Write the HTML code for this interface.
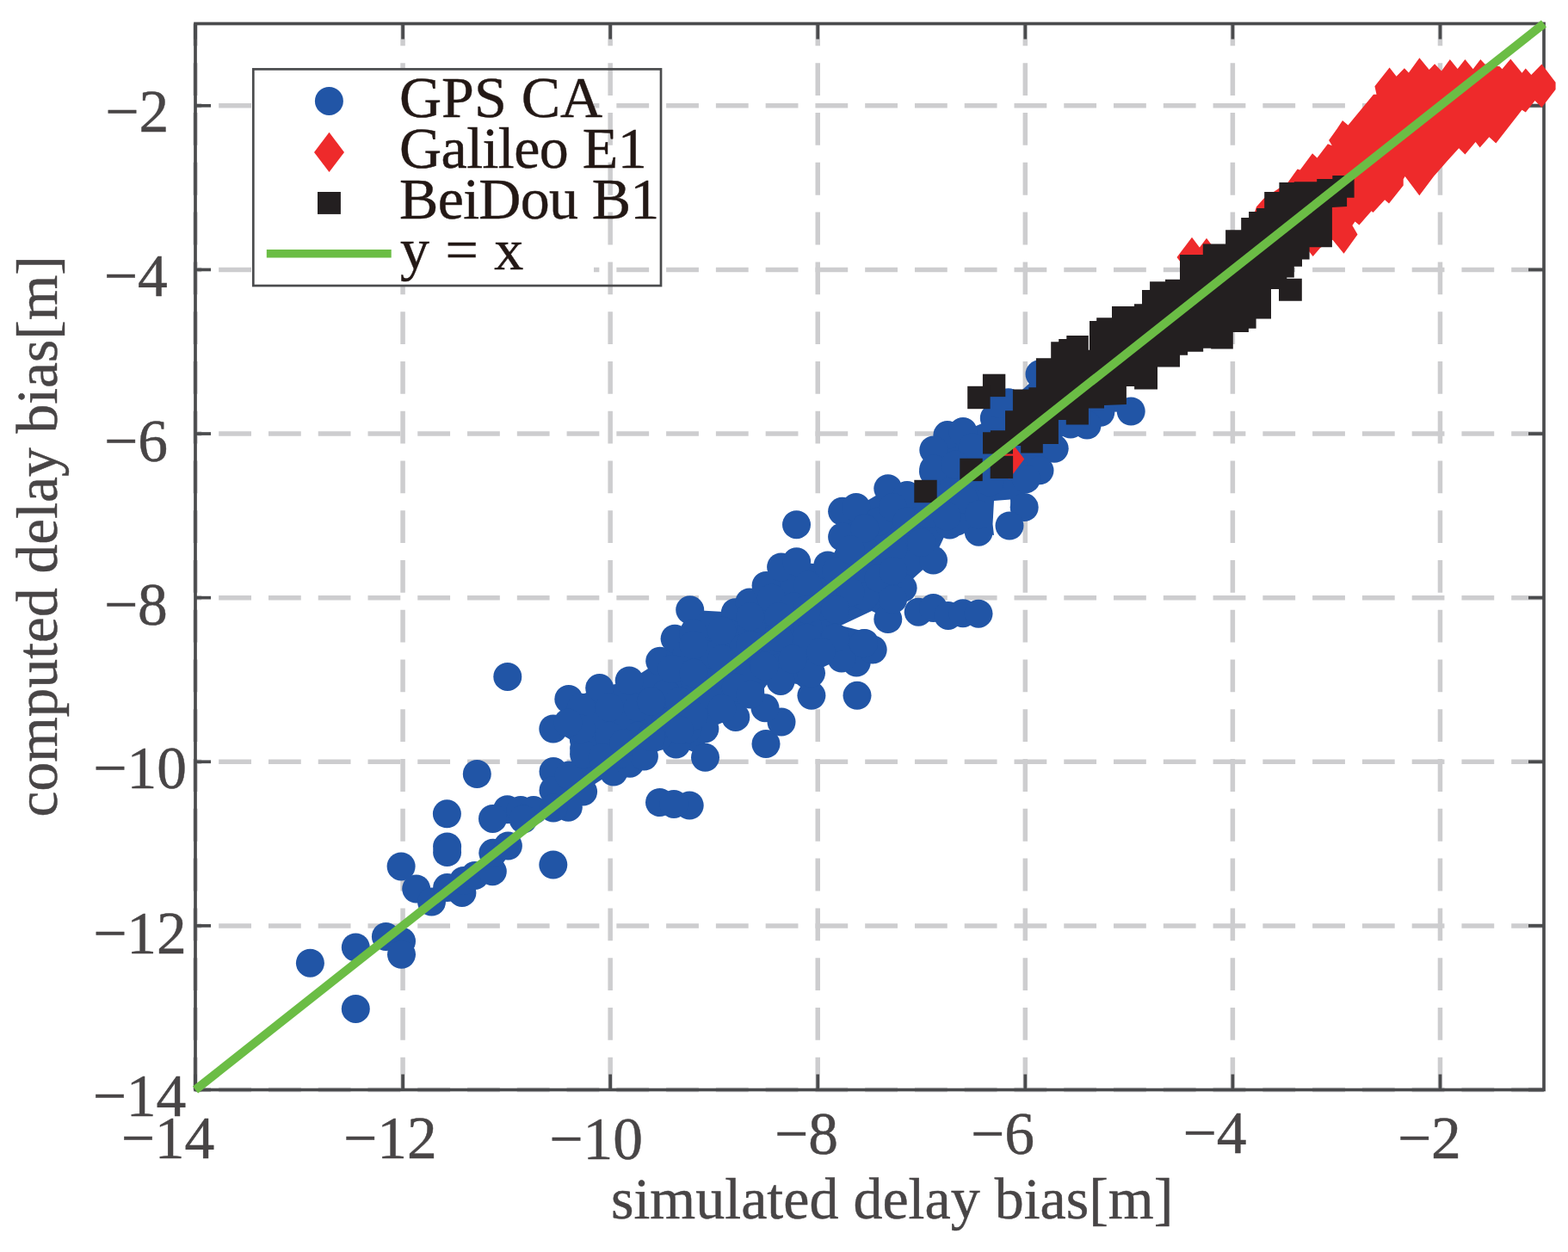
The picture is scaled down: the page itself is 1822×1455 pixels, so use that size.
<!DOCTYPE html><html><head><meta charset="utf-8"><title>simulated vs computed delay bias</title>
<style>html,body{margin:0;padding:0;background:#fff;}svg{display:block;}text{font-family:"Liberation Serif","Times New Roman",serif;}</style></head><body>
<svg width="1822" height="1455" viewBox="0 0 1822 1455">
<rect width="1822" height="1455" fill="#fff"/>
<g stroke="#cdcdcf" stroke-width="5.5" stroke-dasharray="37.80 19.97" fill="none"><line x1="1794.00" y1="1266.50" x2="227.00" y2="1266.50"/><line x1="1794.00" y1="1075.88" x2="227.00" y2="1075.88"/><line x1="1794.00" y1="885.27" x2="227.00" y2="885.27"/><line x1="1794.00" y1="694.65" x2="227.00" y2="694.65"/><line x1="1794.00" y1="504.04" x2="227.00" y2="504.04"/><line x1="1794.00" y1="313.42" x2="227.00" y2="313.42"/><line x1="1794.00" y1="122.81" x2="227.00" y2="122.81"/><line x1="227.00" y1="1266.50" x2="227.00" y2="27.50"/><line x1="468.08" y1="1266.50" x2="468.08" y2="27.50"/><line x1="709.15" y1="1266.50" x2="709.15" y2="27.50"/><line x1="950.23" y1="1266.50" x2="950.23" y2="27.50"/><line x1="1191.31" y1="1266.50" x2="1191.31" y2="27.50"/><line x1="1432.38" y1="1266.50" x2="1432.38" y2="27.50"/><line x1="1673.46" y1="1266.50" x2="1673.46" y2="27.50"/></g>
<g stroke="#4a4b4d" stroke-width="3.7" fill="none"><rect x="227.00" y="27.50" width="1567.00" height="1239.00"/><line x1="227.00" y1="1266.50" x2="227.00" y2="1248.50"/><line x1="227.00" y1="27.50" x2="227.00" y2="45.50"/><line x1="227.00" y1="1266.50" x2="245.00" y2="1266.50"/><line x1="1794.00" y1="1266.50" x2="1776.00" y2="1266.50"/><line x1="468.08" y1="1266.50" x2="468.08" y2="1248.50"/><line x1="468.08" y1="27.50" x2="468.08" y2="45.50"/><line x1="227.00" y1="1075.88" x2="245.00" y2="1075.88"/><line x1="1794.00" y1="1075.88" x2="1776.00" y2="1075.88"/><line x1="709.15" y1="1266.50" x2="709.15" y2="1248.50"/><line x1="709.15" y1="27.50" x2="709.15" y2="45.50"/><line x1="227.00" y1="885.27" x2="245.00" y2="885.27"/><line x1="1794.00" y1="885.27" x2="1776.00" y2="885.27"/><line x1="950.23" y1="1266.50" x2="950.23" y2="1248.50"/><line x1="950.23" y1="27.50" x2="950.23" y2="45.50"/><line x1="227.00" y1="694.65" x2="245.00" y2="694.65"/><line x1="1794.00" y1="694.65" x2="1776.00" y2="694.65"/><line x1="1191.31" y1="1266.50" x2="1191.31" y2="1248.50"/><line x1="1191.31" y1="27.50" x2="1191.31" y2="45.50"/><line x1="227.00" y1="504.04" x2="245.00" y2="504.04"/><line x1="1794.00" y1="504.04" x2="1776.00" y2="504.04"/><line x1="1432.38" y1="1266.50" x2="1432.38" y2="1248.50"/><line x1="1432.38" y1="27.50" x2="1432.38" y2="45.50"/><line x1="227.00" y1="313.42" x2="245.00" y2="313.42"/><line x1="1794.00" y1="313.42" x2="1776.00" y2="313.42"/><line x1="1673.46" y1="1266.50" x2="1673.46" y2="1248.50"/><line x1="1673.46" y1="27.50" x2="1673.46" y2="45.50"/><line x1="227.00" y1="122.81" x2="245.00" y2="122.81"/><line x1="1794.00" y1="122.81" x2="1776.00" y2="122.81"/></g>
<g fill="#2155a6">
<polygon points="572.5,951.4 589.5,940.7 605.0,941.5 620.0,941.5 643.0,918.5 643.0,896.6 678.6,876.7 678.6,870.0 642.8,847.0 660.8,812.5 696.7,799.6 731.2,791.0 766.7,768.3 784.1,742.2 801.7,708.8 854.4,711.7 870.9,699.9 890.1,680.4 907.6,659.0 925.6,652.8 961.9,656.9 978.6,624.0 978.6,594.3 994.8,589.4 1031.8,567.7 1054.0,575.4 1084.5,548.2 1084.8,523.0 1100.9,505.6 1119.0,501.5 1155.3,485.9 1171.7,467.8 1208.0,434.8 1250.0,440.0 1290.0,450.0 1314.2,478.0 1278.8,479.3 1263.1,494.1 1244.0,493.0 1225.2,521.3 1208.0,546.8 1192.3,556.7 1190.2,589.6 1174.5,594.0 1174.0,580.5 1155.0,582.0 1153.5,609.0 1155.0,622.0 1137.2,618.2 1120.0,603.0 1103.5,610.0 1084.5,651.1 1049.1,683.3 1031.8,719.5 1013.0,710.0 977.0,727.0 1005.0,734.0 1014.2,755.0 995.2,770.0 977.9,765.0 942.5,782.3 942.9,808.3 926.0,795.0 907.1,791.4 895.0,790.0 888.0,800.0 889.0,822.7 908.0,839.1 890.0,864.5 900.0,845.0 889.7,823.0 872.0,812.0 854.8,833.4 819.0,848.2 819.5,880.3 785.6,865.1 748.5,879.1 732.0,887.2 713.0,897.0 677.6,920.1 660.3,938.2 643.0,939.0"/>
<circle cx="360.4" cy="1119.2" r="16.5"/><circle cx="413.3" cy="1101.0" r="16.5"/><circle cx="448.4" cy="1088.4" r="16.5"/><circle cx="466.5" cy="1093.9" r="16.5"/><circle cx="466.5" cy="1109.3" r="16.5"/><circle cx="413.3" cy="1172.4" r="16.5"/><circle cx="466.1" cy="1006.9" r="16.5"/><circle cx="483.7" cy="1033.0" r="16.5"/><circle cx="501.5" cy="1048.1" r="16.5"/><circle cx="519.6" cy="1031.6" r="16.5"/><circle cx="536.9" cy="1037.4" r="16.5"/><circle cx="538.6" cy="1023.4" r="16.5"/><circle cx="551.7" cy="1017.6" r="16.5"/><circle cx="572.3" cy="1012.7" r="16.5"/><circle cx="572.8" cy="991.3" r="16.5"/><circle cx="590.4" cy="983.0" r="16.5"/><circle cx="519.6" cy="983.9" r="16.5"/><circle cx="519.6" cy="990.5" r="16.5"/><circle cx="642.8" cy="1005.0" r="16.5"/><circle cx="554.3" cy="899.5" r="16.5"/><circle cx="519.4" cy="945.8" r="16.5"/><circle cx="589.5" cy="940.7" r="16.5"/><circle cx="605.0" cy="941.5" r="16.5"/><circle cx="620.0" cy="941.5" r="16.5"/><circle cx="643.0" cy="896.6" r="16.5"/><circle cx="643.0" cy="918.5" r="16.5"/><circle cx="677.6" cy="920.1" r="16.5"/><circle cx="660.3" cy="938.2" r="16.5"/><circle cx="643.0" cy="939.0" r="16.5"/><circle cx="713.0" cy="897.0" r="16.5"/><circle cx="732.0" cy="887.2" r="16.5"/><circle cx="748.4" cy="879.0" r="16.5"/><circle cx="678.4" cy="860.0" r="16.5"/><circle cx="766.5" cy="932.5" r="16.5"/><circle cx="661.0" cy="901.0" r="16.5"/><circle cx="694.0" cy="885.0" r="16.5"/><circle cx="694.0" cy="868.0" r="16.5"/><circle cx="719.0" cy="876.5" r="16.5"/><circle cx="589.8" cy="786.4" r="16.5"/><circle cx="660.8" cy="812.5" r="16.5"/><circle cx="696.7" cy="799.6" r="16.5"/><circle cx="731.2" cy="791.0" r="16.5"/><circle cx="766.7" cy="768.3" r="16.5"/><circle cx="642.8" cy="847.0" r="16.5"/><circle cx="678.6" cy="870.0" r="16.5"/><circle cx="678.6" cy="876.7" r="16.5"/><circle cx="785.6" cy="865.1" r="16.5"/><circle cx="819.5" cy="880.3" r="16.5"/><circle cx="818.9" cy="847.0" r="16.5"/><circle cx="854.8" cy="833.4" r="16.5"/><circle cx="801.2" cy="936.0" r="16.5"/><circle cx="675.3" cy="822.3" r="16.5"/><circle cx="708.2" cy="822.3" r="16.5"/><circle cx="708.2" cy="855.3" r="16.5"/><circle cx="741.1" cy="822.3" r="16.5"/><circle cx="741.1" cy="855.3" r="16.5"/><circle cx="774.0" cy="805.9" r="16.5"/><circle cx="774.0" cy="838.8" r="16.5"/><circle cx="807.0" cy="789.4" r="16.5"/><circle cx="807.0" cy="822.3" r="16.5"/><circle cx="840.0" cy="773.0" r="16.5"/><circle cx="840.0" cy="806.0" r="16.5"/><circle cx="790.5" cy="764.7" r="16.5"/><circle cx="823.5" cy="756.5" r="16.5"/><circle cx="856.4" cy="748.2" r="16.5"/><circle cx="675.3" cy="847.0" r="16.5"/><circle cx="700.0" cy="880.0" r="16.5"/><circle cx="724.7" cy="863.5" r="16.5"/><circle cx="765.8" cy="855.3" r="16.5"/><circle cx="798.8" cy="847.0" r="16.5"/><circle cx="660.0" cy="840.0" r="16.5"/><circle cx="801.7" cy="708.8" r="16.5"/><circle cx="784.1" cy="742.2" r="16.5"/><circle cx="854.4" cy="711.7" r="16.5"/><circle cx="870.9" cy="699.9" r="16.5"/><circle cx="890.1" cy="680.4" r="16.5"/><circle cx="907.6" cy="659.0" r="16.5"/><circle cx="822.3" cy="728.2" r="16.5"/><circle cx="805.8" cy="736.4" r="16.5"/><circle cx="847.0" cy="736.4" r="16.5"/><circle cx="880.0" cy="720.0" r="16.5"/><circle cx="896.4" cy="695.3" r="16.5"/><circle cx="797.6" cy="761.0" r="16.5"/><circle cx="830.5" cy="761.0" r="16.5"/><circle cx="863.5" cy="752.9" r="16.5"/><circle cx="896.4" cy="744.7" r="16.5"/><circle cx="781.0" cy="777.6" r="16.5"/><circle cx="925.5" cy="609.7" r="16.5"/><circle cx="925.6" cy="652.8" r="16.5"/><circle cx="961.9" cy="656.9" r="16.5"/><circle cx="978.6" cy="594.3" r="16.5"/><circle cx="978.6" cy="624.0" r="16.5"/><circle cx="994.8" cy="589.4" r="16.5"/><circle cx="1031.8" cy="567.7" r="16.5"/><circle cx="1054.0" cy="575.4" r="16.5"/><circle cx="1084.5" cy="548.2" r="16.5"/><circle cx="1103.5" cy="610.0" r="16.5"/><circle cx="1137.2" cy="618.2" r="16.5"/><circle cx="1084.5" cy="651.1" r="16.5"/><circle cx="1049.1" cy="683.3" r="16.5"/><circle cx="1031.8" cy="719.5" r="16.5"/><circle cx="1067.2" cy="711.2" r="16.5"/><circle cx="1084.5" cy="706.6" r="16.5"/><circle cx="1101.8" cy="715.4" r="16.5"/><circle cx="1004.7" cy="693.1" r="16.5"/><circle cx="962.0" cy="722.0" r="16.5"/><circle cx="1004.7" cy="747.5" r="16.5"/><circle cx="938.8" cy="680.0" r="16.5"/><circle cx="971.7" cy="663.5" r="16.5"/><circle cx="1004.7" cy="638.8" r="16.5"/><circle cx="1021.0" cy="605.9" r="16.5"/><circle cx="1037.6" cy="589.4" r="16.5"/><circle cx="1054.0" cy="605.9" r="16.5"/><circle cx="1078.8" cy="597.6" r="16.5"/><circle cx="1095.2" cy="589.4" r="16.5"/><circle cx="1120.0" cy="581.2" r="16.5"/><circle cx="1111.7" cy="605.9" r="16.5"/><circle cx="1037.6" cy="638.8" r="16.5"/><circle cx="1070.5" cy="630.6" r="16.5"/><circle cx="1021.0" cy="671.7" r="16.5"/><circle cx="1037.6" cy="663.5" r="16.5"/><circle cx="988.2" cy="688.2" r="16.5"/><circle cx="955.3" cy="704.7" r="16.5"/><circle cx="922.3" cy="704.7" r="16.5"/><circle cx="905.9" cy="721.1" r="16.5"/><circle cx="872.9" cy="729.4" r="16.5"/><circle cx="938.8" cy="729.4" r="16.5"/><circle cx="1037.6" cy="696.4" r="16.5"/><circle cx="1004.7" cy="614.1" r="16.5"/><circle cx="988.2" cy="638.8" r="16.5"/><circle cx="890.0" cy="864.5" r="16.5"/><circle cx="908.0" cy="839.1" r="16.5"/><circle cx="889.0" cy="822.7" r="16.5"/><circle cx="907.1" cy="791.4" r="16.5"/><circle cx="942.9" cy="808.3" r="16.5"/><circle cx="942.5" cy="782.3" r="16.5"/><circle cx="996.0" cy="808.3" r="16.5"/><circle cx="995.2" cy="770.0" r="16.5"/><circle cx="1014.2" cy="755.0" r="16.5"/><circle cx="977.9" cy="765.0" r="16.5"/><circle cx="1003.5" cy="747.8" r="16.5"/><circle cx="805.9" cy="749.4" r="16.5"/><circle cx="838.8" cy="733.0" r="16.5"/><circle cx="871.7" cy="716.5" r="16.5"/><circle cx="904.7" cy="716.5" r="16.5"/><circle cx="937.6" cy="708.2" r="16.5"/><circle cx="970.5" cy="708.2" r="16.5"/><circle cx="805.9" cy="782.3" r="16.5"/><circle cx="838.8" cy="765.9" r="16.5"/><circle cx="871.7" cy="749.4" r="16.5"/><circle cx="904.7" cy="741.2" r="16.5"/><circle cx="937.6" cy="741.2" r="16.5"/><circle cx="970.5" cy="741.2" r="16.5"/><circle cx="789.4" cy="815.3" r="16.5"/><circle cx="822.3" cy="807.0" r="16.5"/><circle cx="855.3" cy="798.8" r="16.5"/><circle cx="888.2" cy="774.1" r="16.5"/><circle cx="921.1" cy="765.9" r="16.5"/><circle cx="954.0" cy="757.6" r="16.5"/><circle cx="773.0" cy="840.0" r="16.5"/><circle cx="805.9" cy="831.7" r="16.5"/><circle cx="838.8" cy="823.5" r="16.5"/><circle cx="871.7" cy="807.0" r="16.5"/><circle cx="756.5" cy="815.3" r="16.5"/><circle cx="756.5" cy="856.4" r="16.5"/><circle cx="789.4" cy="848.2" r="16.5"/><circle cx="1118.9" cy="712.7" r="16.5"/><circle cx="1137.0" cy="713.2" r="16.5"/><circle cx="1208.0" cy="434.8" r="16.5"/><circle cx="1314.2" cy="478.0" r="16.5"/><circle cx="1278.8" cy="479.3" r="16.5"/><circle cx="1263.1" cy="494.1" r="16.5"/><circle cx="1244.0" cy="493.0" r="16.5"/><circle cx="1225.2" cy="521.3" r="16.5"/><circle cx="1208.0" cy="546.8" r="16.5"/><circle cx="1192.3" cy="556.7" r="16.5"/><circle cx="1190.2" cy="589.6" r="16.5"/><circle cx="1173.0" cy="611.0" r="16.5"/><circle cx="1100.9" cy="505.6" r="16.5"/><circle cx="1119.0" cy="501.5" r="16.5"/><circle cx="1084.8" cy="523.0" r="16.5"/><circle cx="1084.8" cy="545.1" r="16.5"/><circle cx="1171.7" cy="467.8" r="16.5"/><circle cx="1155.3" cy="485.9" r="16.5"/><circle cx="1150.0" cy="520.0" r="16.5"/><circle cx="1130.0" cy="520.0" r="16.5"/><circle cx="1110.0" cy="540.0" r="16.5"/><circle cx="1150.0" cy="560.0" r="16.5"/><circle cx="1120.0" cy="580.0" r="16.5"/><circle cx="1100.0" cy="600.0" r="16.5"/><circle cx="1137.4" cy="598.0" r="16.5"/><circle cx="783.0" cy="934.4" r="16.5"/><circle cx="572.5" cy="951.4" r="16.5"/><circle cx="1161.8" cy="469.4" r="16.5"/><circle cx="608.0" cy="952.0" r="16.5"/>
</g>
<g fill="#ee2a2b">
<polygon points="1450.0,270.0 1460.0,240.3 1468.7,230.4 1496.5,211.9 1507.6,196.4 1510.7,197.6 1525.0,178.2 1530.5,183.4 1542.9,167.3 1547.8,169.2 1544.1,163.0 1553.4,150.0 1560.0,139.9 1566.5,145.6 1596.0,109.7 1599.5,109.7 1597.4,100.3 1614.6,78.5 1622.6,88.8 1631.9,79.2 1636.9,84.5 1649.4,67.3 1660.7,80.9 1667.1,74.2 1675.0,82.4 1684.8,69.0 1693.7,79.9 1702.4,69.0 1711.7,80.2 1720.3,69.0 1725.4,74.4 1742.6,77.3 1745.5,80.2 1755.3,68.4 1768.5,84.8 1772.8,79.5 1779.3,87.1 1791.5,74.4 1807.6,95.7 1807.6,103.9 1791.5,125.1 1783.6,116.9 1772.8,130.5 1768.5,127.7 1738.3,166.5 1730.4,159.3 1719.6,171.5 1714.6,165.0 1702.4,179.4 1695.2,172.2 1682.2,186.6 1666.0,205.1 1649.3,227.3 1632.6,205.1 1630.7,208.2 1630.7,215.6 1614.0,236.6 1609.1,232.3 1595.5,247.1 1593.6,245.3 1579.4,261.4 1574.5,257.6 1571.4,262.0 1577.5,272.5 1561.5,294.8 1548.5,278.7 1534.2,288.0 1525.6,297.9 1521.2,292.3 1500.0,300.0 1470.0,300.0"/>
<path d="M1172.7 510.4l17.5 23.2l-17.5 23.2l-17.5 -23.2z"/><path d="M1385.0 275.8l17.5 23.2l-17.5 23.2l-17.5 -23.2z"/><path d="M1402.0 276.8l17.5 23.2l-17.5 23.2l-17.5 -23.2z"/>
</g>
<g fill="#231f20">
<polygon points="1142.0,527.6 1142.0,502.2 1150.9,502.2 1150.9,500.2 1168.0,500.2 1168.0,477.2 1176.9,477.2 1176.9,452.4 1195.4,452.4 1195.4,450.2 1203.9,450.2 1203.9,416.3 1221.2,416.3 1221.2,397.2 1230.2,397.2 1230.2,394.1 1239.3,394.1 1239.3,390.0 1264.8,390.0 1264.8,406.8 1266.0,406.8 1266.0,373.0 1274.2,373.0 1274.2,369.2 1292.0,369.2 1292.0,356.1 1318.0,356.1 1318.0,353.3 1327.0,353.3 1327.0,337.1 1336.1,337.1 1336.1,327.3 1354.0,327.3 1354.0,324.8 1371.0,324.8 1371.0,296.0 1397.8,296.0 1397.8,283.4 1424.1,283.4 1424.1,267.2 1442.2,267.2 1442.2,253.1 1451.1,253.1 1451.1,246.1 1460.1,246.1 1460.1,241.9 1469.2,241.9 1469.2,223.1 1486.4,223.1 1486.4,212.0 1503.8,212.0 1503.8,211.2 1530.2,211.2 1530.2,208.1 1548.3,208.1 1548.3,204.1 1573.6,204.1 1573.6,229.8 1565.1,229.8 1565.1,239.9 1547.9,240.9 1547.9,287.3 1521.6,287.3 1521.6,301.4 1513.0,301.4 1513.0,309.7 1503.8,309.7 1503.8,322.5 1495.3,322.5 1495.3,323.8 1512.8,323.8 1512.8,349.7 1486.0,349.7 1486.0,336.1 1477.0,336.1 1477.0,370.6 1459.6,370.6 1459.6,381.8 1450.9,381.8 1450.9,385.9 1432.8,385.9 1432.8,405.5 1407.2,405.5 1407.2,404.7 1398.2,404.7 1398.2,408.8 1380.1,408.8 1380.1,412.7 1371.0,412.7 1371.0,426.6 1345.0,426.6 1345.0,452.5 1318.1,452.5 1318.1,448.9 1308.9,448.9 1308.9,469.9 1283.0,470.9 1283.0,474.5 1264.9,474.5 1264.9,493.6 1238.8,493.6 1238.8,488.0 1229.9,488.0 1229.9,516.0 1211.8,516.0 1211.8,526.6 1186.2,526.6 1186.2,518.0 1177.0,518.0 1177.0,527.6"/>
<rect x="1141.9" y="434.7" width="26.4" height="26.4"/><rect x="1124.2" y="448.8" width="26.4" height="26.4"/><rect x="1115.3" y="532.7" width="26.4" height="26.4"/><rect x="1150.7" y="529.7" width="26.4" height="26.4"/><rect x="1062.3" y="557.8" width="26.4" height="26.4"/>
</g>
<line x1="227.00" y1="1266.50" x2="1794.00" y2="27.50" stroke="#6bbd45" stroke-width="10"/>
<rect x="294.3" y="80.4" width="395.7" height="251.6" fill="#fff"/>
<rect x="294.3" y="80.4" width="473.7" height="251.6" fill="none" stroke="#4a4b4d" stroke-width="2.7"/>
<circle cx="382.4" cy="117.4" r="16.5" fill="#2155a6"/>
<path d="M382.5 153.7l17.5 23.2l-17.5 23.2l-17.5 -23.2z" fill="#ee2a2b"/>
<rect x="369" y="223" width="26.9" height="25.9" fill="#231f20"/>
<line x1="309.8" y1="294.8" x2="454.7" y2="294.8" stroke="#6bbd45" stroke-width="9.6"/>
<g font-size="68" fill="#231815" stroke="#231815" stroke-width="0.45">
<text x="464" y="135.9">GPS CA</text>
<text x="464" y="194.9" letter-spacing="-0.55">Galileo E1</text>
<text x="464" y="253.6" letter-spacing="-0.7">BeiDou B1</text>
<text x="465" y="312.6" letter-spacing="0.75">y = x</text>
</g>
<g font-size="69.5" fill="#484546" stroke="#484546" stroke-width="0.45" text-anchor="middle">
<text x="195.0" y="1345.8">−14</text>
<text x="453.3" y="1346.0">−12</text>
<text x="692.7" y="1346.6">−10</text>
<text x="937.0" y="1341.0">−8</text>
<text x="1165.0" y="1341.0">−6</text>
<text x="1411.6" y="1340.4">−4</text>
<text x="1660.9" y="1345.6">−2</text>
<text x="159.2" y="153.0">−2</text>
<text x="157.7" y="343.6">−4</text>
<text x="158.1" y="535.6">−6</text>
<text x="157.9" y="726.0">−8</text>
<text x="162.7" y="916.0">−10</text>
<text x="162.5" y="1107.6">−12</text>
<text x="162.0" y="1296.5">−14</text>
</g>
<text x="710" y="1416.3" font-size="68" fill="#484546" stroke="#484546" stroke-width="0.45">simulated delay bias[m]</text>
<text transform="translate(66.4 949.5) rotate(-90)" x="0" y="0" font-size="67.5" fill="#484546" stroke="#484546" stroke-width="0.45">computed delay bias[m]</text>
</svg></body></html>
